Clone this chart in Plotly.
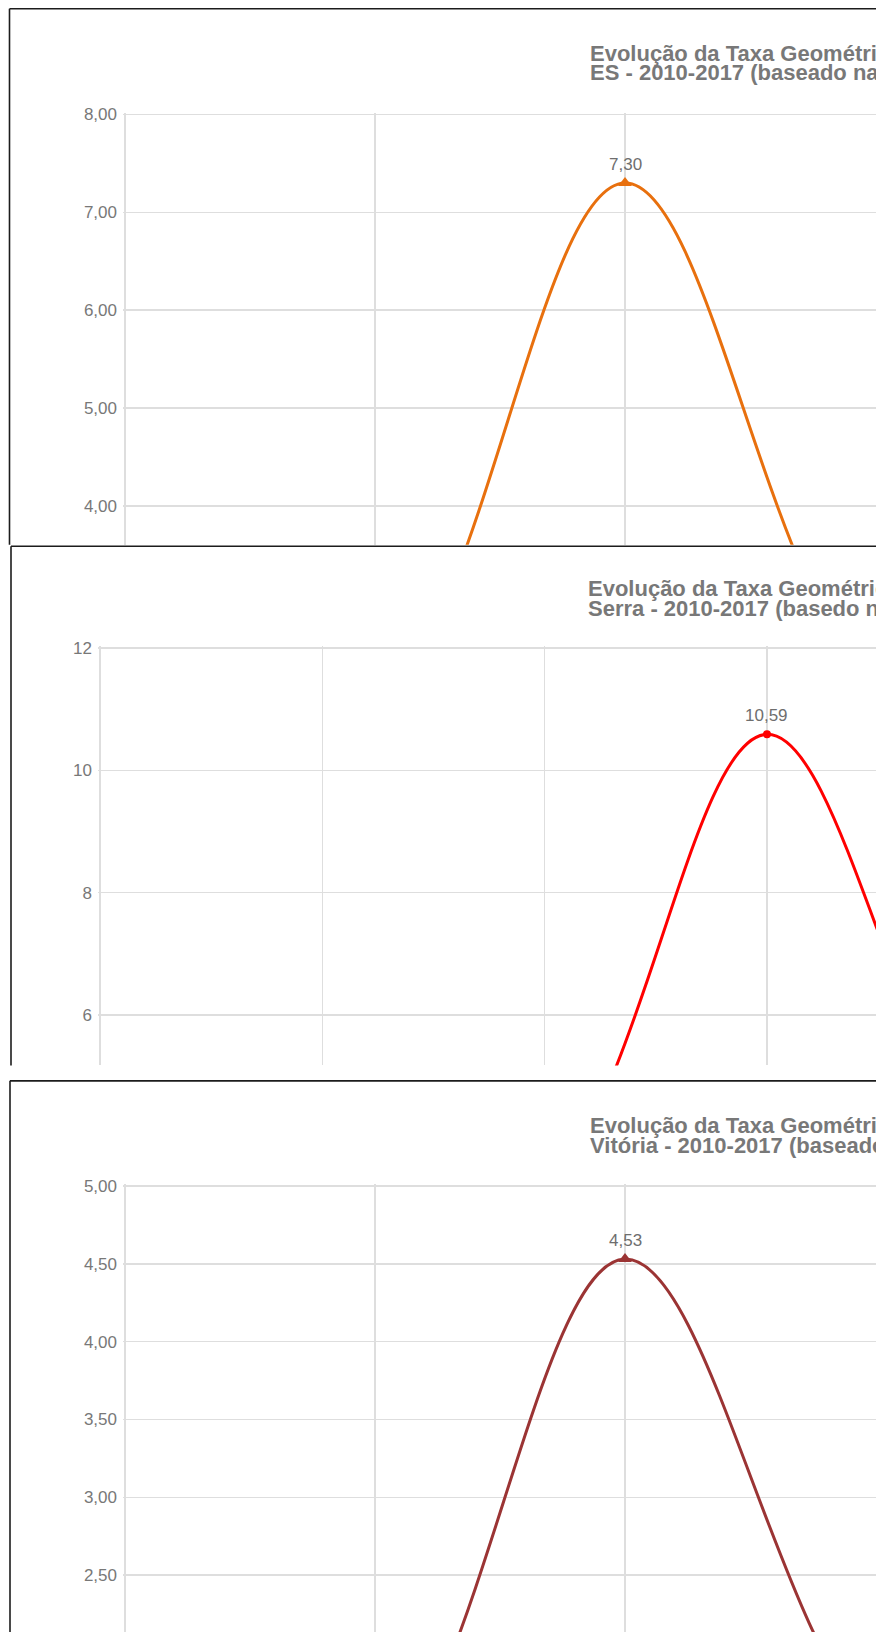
import plotly.graph_objects as go

W, H = 876, 1632

# ---------------- data ----------------
years = [2010, 2011, 2012, 2013, 2014, 2015, 2016, 2017]
es_values = [1.20, 1.85, 7.30, 2.15, 1.40, 1.30, 1.20, 1.10]
serra_values = [2.00, 2.40, 3.20, 10.59, 3.80, 2.60, 2.40, 2.20]
vitoria_values = [0.40, 1.10, 4.53, 1.50, 0.60, 0.55, 0.50, 0.40]

title_line1 = "Evolução da Taxa Geométrica de Crescimento Populacional"
es_title2 = "ES - 2010-2017 (baseado nas estimativas populacionais do IBGE)"
serra_title2 = "Serra - 2010-2017 (basedo nas estimativas populacionais do IBGE)"
vitoria_title2 = "Vitória - 2010-2017 (baseado nas estimativas populacionais do IBGE)"

FONT = "Liberation Sans, Arial, Helvetica, sans-serif"
GRID = "#dedede"
TXT = "#787878"

panels = [
    dict(values=es_values, color="#E8700E", symbol="triangle-up", msize=12, title2=es_title2,
         x_left=125, x_step=250.0, y_top_px=108, y_top_val=8.0, ppu=98.25,
         plot_bottom=540, box_top=1.8, box_left=9.5, box_bottom=540,
         title_x=588, title_y1=46.5, title_y2=66, tickfmt=".2f", dtick=1.0),
    dict(values=serra_values, color="#FF0000", symbol="circle", msize=8, title2=serra_title2,
         x_left=100, x_step=222.33, y_top_px=644, y_top_val=12.0, ppu=61.35,
         plot_bottom=1063, box_top=541.5, box_left=11, box_bottom=1063,
         title_x=586, title_y1=584.5, title_y2=604, tickfmt="d", dtick=2.0),
    dict(values=vitoria_values, color="#9B3434", symbol="triangle-up", msize=12, title2=vitoria_title2,
         x_left=125, x_step=250.0, y_top_px=1184, y_top_val=5.0, ppu=156.4,
         plot_bottom=1632, box_top=1078.5, box_left=10, box_bottom=1632,
         title_x=588, title_y1=1123, title_y2=1143, tickfmt=".2f", dtick=0.5),
]

fig = go.Figure()
shapes = []
annotations = []
layout_axes = {}

for i, p in enumerate(panels, start=1):
    xa = "x" if i == 1 else f"x{i}"
    ya = "y" if i == 1 else f"y{i}"
    vals = p["values"]
    fig.add_trace(go.Scatter(
        x=years, y=vals, mode="lines", xaxis=xa, yaxis=ya,
        line=dict(color=p["color"], width=3, shape="spline", smoothing=1.0),
        hoverinfo="skip", showlegend=False))
    k = max(range(len(vals)), key=lambda j: vals[j])
    fig.add_trace(go.Scatter(
        x=[years[k]], y=[vals[k]], mode="markers", xaxis=xa, yaxis=ya,
        marker=dict(symbol=p["symbol"], size=p["msize"], color=p["color"]),
        hoverinfo="skip", showlegend=False))
    annotations.append(dict(
        x=years[k], y=vals[k], xref=xa, yref=ya,
        text=f"{vals[k]:.2f}".replace(".", ","), showarrow=False,
        yanchor="middle", yshift=19,
        font=dict(family=FONT, size=17, color="#6e6e6e")))

    x0 = years[0]
    xr = [x0 - 2 / p["x_step"], x0 + (W - p["x_left"]) / p["x_step"]]
    yr = [p["y_top_val"] - (p["plot_bottom"] - p["y_top_px"]) / p["ppu"],
          p["y_top_val"] + 2 / p["ppu"]]
    xkey = "xaxis" if i == 1 else f"xaxis{i}"
    ykey = "yaxis" if i == 1 else f"yaxis{i}"
    layout_axes[xkey] = dict(
        domain=[(p["x_left"] - 2) / W, 1.0], range=xr, anchor=ya,
        tick0=x0, dtick=1, showgrid=True, gridcolor=GRID, gridwidth=1.6,
        showticklabels=False, ticks="", zeroline=False, showline=False, fixedrange=True)
    layout_axes[ykey] = dict(
        domain=[max(0.0, 1 - p["plot_bottom"] / H), 1 - (p["y_top_px"] - 2) / H],
        range=yr, anchor=xa, tick0=p["y_top_val"], dtick=p["dtick"],
        tickformat=p["tickfmt"], showgrid=True, gridcolor=GRID, gridwidth=1.6,
        ticks="", ticklabelstandoff=5, zeroline=False, showline=False,
        tickfont=dict(family=FONT, size=17, color=TXT), fixedrange=True)

    # panel frame (cut off by the window on the right and by the next panel)
    bx = p["box_left"] / W
    shapes.append(dict(type="line", xref="paper", yref="paper",
                       x0=bx, x1=bx, y0=1 - p["box_top"] / H, y1=1 - p["box_bottom"] / H,
                       line=dict(color="#1c1c1c", width=1.6), layer="above"))
    shapes.append(dict(type="line", xref="paper", yref="paper",
                       x0=bx, x1=1.5, y0=1 - p["box_top"] / H, y1=1 - p["box_top"] / H,
                       line=dict(color="#1c1c1c", width=1.6), layer="above"))

    for txt, ty in ((title_line1, p["title_y1"]), (p["title2"], p["title_y2"])):
        annotations.append(dict(
            x=p["title_x"] / W, y=1 - ty / H, xref="paper", yref="paper",
            text=f"<b>{txt}</b>", showarrow=False, xanchor="left", yanchor="middle",
            align="left", font=dict(family=FONT, size=22, color=TXT)))

fig.update_layout(
    width=W, height=H, margin=dict(l=0, r=0, t=0, b=0),
    paper_bgcolor="white", plot_bgcolor="white",
    separators=",.", showlegend=False, hovermode=False,
    shapes=shapes, annotations=annotations, **layout_axes)

fig.write_html(
    "out.html",
    config={"displayModeBar": False, "staticPlot": True},
    post_script=(
        "document.body.style.margin='0';document.body.style.padding='0';"
        "document.body.style.overflow='hidden';"
        "var d=document.getElementById('{plot_id}');"
        "d.style.position='absolute';d.style.left='0px';d.style.top='0px';"
    ),
)
